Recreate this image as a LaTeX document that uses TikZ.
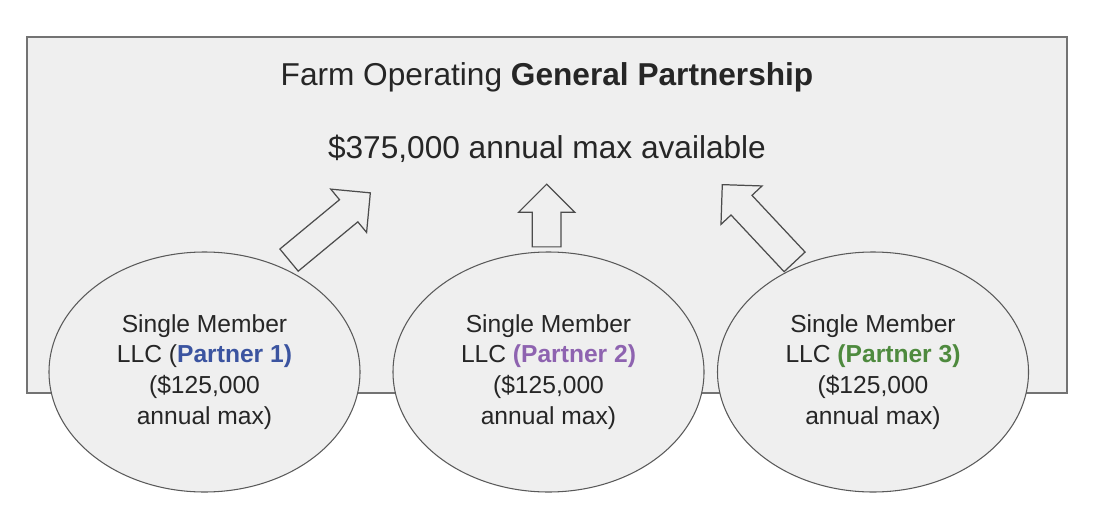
\documentclass[tikz,border=0pt]{standalone}
\usepackage{fontspec}
\setmainfont{Liberation Sans}
\usetikzlibrary{positioning, shapes.geometric, shapes.arrows}

\definecolor{boxfill}{HTML}{EFEFEF}
\definecolor{partnerone}{HTML}{3B54A0}
\definecolor{partnertwo}{HTML}{8E63B0}
\definecolor{partnerthree}{HTML}{4E8A3E}

\begin{document}
\begin{tikzpicture}[
    partnership/.style={rectangle, draw=black!55, line width=1.1pt, fill=boxfill,
                    minimum width=20.8cm, minimum height=7.12cm, inner sep=0pt},
    member/.style={ellipse, draw=black!65, line width=0.6pt, fill=boxfill,
                   minimum width=6.22cm, minimum height=4.8cm, inner sep=0pt,
                   align=center, text=black!85, font=\fontsize{14}{17.5}\selectfont},
    upflow/.style={single arrow, draw=black!70, line width=0.7pt, fill=boxfill,
                   minimum width=1.1cm, single arrow head extend=0.275cm,
                   inner xsep=0pt, inner ysep=0.275cm, anchor=tip},
    heading/.style={anchor=base, text=black!85, font=\fontsize{18}{22}\selectfont}
]
    \useasboundingbox[fill=white] (0,0) rectangle (21.94,10.5);

    % Partnership box
    \node[partnership] (gp) at (10.94, 6.2) {};

    % Title
    \node[heading] (title) at (10.94, 8.78) {Farm Operating \textbf{General Partnership}};
    \node[heading] (pool) at (10.94, 7.34) {\$375,000 annual max available};

    % Arrows up to the partnership
    \node[upflow, minimum height=2.11cm, rotate=39.6] (flowA) at (7.42, 6.654) {};
    \node[upflow, minimum height=1.254cm, rotate=90] (flowB) at (10.934, 6.834) {};
    \node[upflow, minimum height=2.116cm, rotate=133.1] (flowC) at (14.434, 6.82) {};

    % Member LLCs
    \node[member] (llcA) at (4.09, 3.06) {Single Member\\LLC (\textcolor{partnerone}{\textbf{Partner 1)}}\\(\$125,000\\annual max)};
    \node[member] (llcB) at (10.97, 3.06) {Single Member\\LLC \textcolor{partnertwo}{\textbf{(Partner 2)}}\\(\$125,000\\annual max)};
    \node[member] (llcC) at (17.46, 3.06) {Single Member\\LLC \textcolor{partnerthree}{\textbf{(Partner 3)}}\\(\$125,000\\annual max)};

\end{tikzpicture}
\end{document}
